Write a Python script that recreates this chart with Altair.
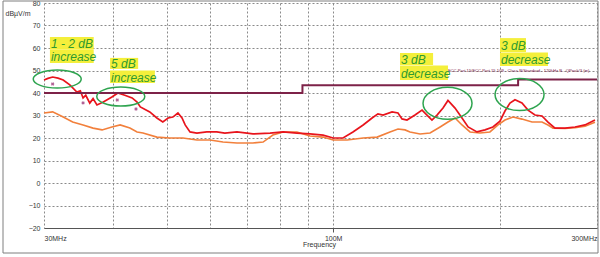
import altair as alt
import pandas as pd

# ---------------- data ----------------
red_freq = [30.0, 30.5, 31.1, 31.8, 32.5, 33.4, 34.4, 34.9, 35.3, 35.7, 36.3, 36.8, 37.4, 38.4,
            39.8, 40.8, 42.0, 43.3, 44.2, 44.8, 46.6, 48.0, 49.2, 50.3, 51.3, 52.4, 53.3, 54.0,
            55.1, 56.7, 59.1, 61.6, 63.7, 67.0, 71.6, 76.9, 81.2, 86.0, 90.8, 95.9, 100.0, 104.2,
            108.6, 113.3, 117.6, 120.5, 123.1, 127.8, 131.0, 133.2, 136.0, 140.6, 144.8, 147.8,
            150.9, 154.1, 158.0, 161.3, 166.1, 171.0, 175.4, 182.0, 188.2, 194.5, 200.3, 204.5,
            208.8, 213.2, 219.5, 225.1, 231.7, 238.6, 244.6, 251.9, 262.6, 273.8, 285.4, 297.5]
red_db = [45.8, 46.5, 47.1, 46.6, 45.8, 43.6, 40.4, 41.0, 37.8, 39.0, 35.5, 37.5, 34.7, 36.0,
          38.2, 40.0, 39.0, 37.8, 36.0, 33.8, 31.6, 28.9, 27.1, 28.9, 29.3, 31.1, 28.9, 25.8,
          22.7, 22.2, 22.7, 22.7, 22.2, 22.7, 21.8, 22.2, 22.7, 22.2, 21.8, 21.3, 20.0, 20.0,
          22.7, 25.8, 28.9, 30.7, 30.2, 31.6, 31.1, 28.5, 28.0, 30.2, 32.4, 30.2,
          28.0, 30.2, 33.3, 36.7, 33.3, 28.9, 24.9, 22.7, 23.6, 24.9, 27.5, 32.0,
          35.5, 37.0, 35.6, 32.4, 30.2, 29.8, 27.1, 24.4, 24.4, 24.9, 25.8, 28.0]

orange_freq = [30.0, 31.1, 32.5, 33.8, 35.3, 36.8, 38.2, 39.8, 41.2, 42.9, 44.2, 45.3, 48.0,
               50.7, 53.5, 56.7, 59.9, 63.2, 67.0, 71.6, 74.7, 77.8, 81.2, 86.0, 90.8, 95.9,
               100.0, 106.0, 113.3, 120.1, 126.7, 131.0, 134.9, 137.7, 143.6, 149.7, 156.1,
               161.3, 166.1, 171.0, 176.8, 184.3, 192.1, 198.7, 204.5, 211.5, 219.5, 228.9,
               238.6, 244.6, 249.8, 262.6, 273.8, 285.4, 297.5]
orange_db = [31.1, 31.6, 29.3, 27.1, 25.8, 24.4, 23.6, 24.9, 25.8, 24.4, 22.7, 22.2, 20.4,
             20.0, 20.0, 19.1, 19.1, 18.2, 17.8, 17.8, 18.2, 21.3, 22.7, 22.7, 20.9, 20.4,
             19.1, 19.1, 20.0, 20.4, 22.7, 24.0, 23.6, 22.7, 21.8, 22.2, 24.9,
             27.1, 28.9, 25.8, 22.7, 22.2, 22.7, 25.8, 28.0, 29.3, 28.4, 27.1,
             27.1, 25.8, 24.4, 24.2, 24.6, 25.2, 27.0]

limit_freq = [30, 88, 216, 300]
limit_db = [40, 43.5, 46, 46]
limit_label = "FCC Part 15/FCC Part 15.109 - Class B/Standard - 120kHz B - QPeak/3 (m)"

marker_freq = [31.1, 35.3, 40.7, 44.0]
marker_db = [44.0, 35.6, 36.9, 32.9]

x_ticks = [30, 40, 50, 60, 70, 80, 90, 100, 200, 300]
y_ticks = [-20, -10, 0, 10, 20, 30, 40, 50, 60, 70, 80]

# annotation lines (text, left freq, right freq, top dB, bottom dB)
note_text = ["1 - 2 dB", "increase", "5 dB", "increase", "3 dB", "decrease", "3 dB", "decrease"]
note_f0 = [30.75, 30.75, 39.5, 39.5, 132.1, 132.1, 200.3, 200.3]
note_f1 = [36.9, 36.9, 44.4, 47.6, 151.6, 161.3, 223.2, 244.6]
note_top = [64.9, 59.4, 55.6, 50.0, 57.8, 52.2, 64.4, 58.0]
note_bot = [59.6, 53.3, 50.7, 44.4, 52.4, 45.8, 58.2, 52.0]

# ellipses (center freq, center dB, width px, height px)
ell_freq = [31.7, 41.3, 161.0, 217.3]
ell_db = [46.2, 38.4, 35.4, 39.3]
ell_w = [48, 48, 49, 49]
ell_h = [18, 19, 32, 32]

# ---------------- helpers ----------------
W, H = 553, 225
xs = alt.Scale(type="log", domain=[30, 300], nice=False)
ys = alt.Scale(domain=[-20, 80], nice=False, zero=False)

x_axis = alt.Axis(
    values=x_ticks, grid=True, gridColor="#8a8a8a", gridDash=[2, 2], gridWidth=1,
    labelExpr="datum.value == 30 ? '30MHz' : datum.value == 100 ? '100M' : datum.value == 300 ? '300MHz' : ''",
    labelFlush=True, labelOverlap=False, labelFontSize=7, labelColor="#333333",
    labelFont="Liberation Sans", labelPadding=2, tickSize=4,
    tickColor={"condition": {"test": "datum.value == 100", "value": "#555555"}, "value": "transparent"},
    domain=True, domainColor="#555555", domainWidth=1,
    title="Frequency", titleFontSize=7, titleFontWeight="normal", titleColor="#333333",
    titleFont="Liberation Sans", titleX=275, titleY=16, titleAlign="center",
    titleBaseline="middle",
)
y_axis = alt.Axis(
    values=y_ticks, grid=True, gridColor="#8a8a8a", gridDash=[2, 2], gridWidth=1,
    labelFontSize=7, labelColor="#333333", labelFont="Liberation Sans", labelPadding=4,
    labelOverlap=False, ticks=False, domain=False,
    title="dBµV/m", titleFontSize=7, titleFontWeight="normal", titleColor="#333333",
    titleFont="Liberation Sans", titleAngle=0, titleX=-39, titleY=10, titleAlign="left",
    titleBaseline="middle",
)


def ellipse_path(k):
    c = 0.5523
    return (f"M -1 0 C -1 {-c*k:.4f} {-c:.4f} {-k:.4f} 0 {-k:.4f} "
            f"C {c:.4f} {-k:.4f} 1 {-c*k:.4f} 1 0 "
            f"C 1 {c*k:.4f} {c:.4f} {k:.4f} 0 {k:.4f} "
            f"C {-c:.4f} {k:.4f} -1 {c*k:.4f} -1 0 Z")


def X(field="f"):
    return alt.X(f"{field}:Q", scale=xs, axis=x_axis)


def Y(field="db"):
    return alt.Y(f"{field}:Q", scale=ys, axis=y_axis)


red_df = pd.DataFrame({"f": red_freq, "db": red_db})
orange_df = pd.DataFrame({"f": orange_freq, "db": orange_db})
limit_df = pd.DataFrame({"f": limit_freq, "db": limit_db})
marker_df = pd.DataFrame({"f": marker_freq, "db": marker_db})
note_df = pd.DataFrame({"t": note_text, "f0": note_f0, "f1": note_f1,
                        "top": note_top, "bot": note_bot})
note_df["mid"] = (note_df["top"] + note_df["bot"]) / 2

orange = alt.Chart(orange_df).mark_line(color="#f2803c", strokeWidth=1.6).encode(x=X(), y=Y())
red = alt.Chart(red_df).mark_line(color="#e8141c", strokeWidth=1.7).encode(x=X(), y=Y())
limit = alt.Chart(limit_df).mark_line(color="#7d2248", strokeWidth=2,
                                      interpolate="step-after").encode(x=X(), y=Y())
limit_text = alt.Chart(pd.DataFrame({"f": [161.3], "db": [49.8], "t": [limit_label]})).mark_text(
    align="left", baseline="middle", fontSize=4.2, color="#7d2248",
    font="Liberation Sans").encode(x=X(), y=Y(), text="t:N")
markers = alt.Chart(marker_df).mark_point(shape="cross", angle=45, filled=True, size=12,
                                          color="#a8508a", opacity=0.9).encode(x=X(), y=Y())

note_rect = alt.Chart(note_df).mark_rect(color="#f4ef3b").encode(
    x=X("f0"), x2="f1:Q", y=Y("top"), y2="bot:Q")
note_txt = alt.Chart(note_df).mark_text(
    align="left", baseline="middle", dx=1, dy=1, fontSize=12, fontStyle="italic",
    font="Liberation Sans", color="#2f9a2f").encode(x=X("f0"), y=Y("mid"), text="t:N")

ellipses = []
for f, d, w, h in zip(ell_freq, ell_db, ell_w, ell_h):
    ellipses.append(
        alt.Chart(pd.DataFrame({"f": [f], "db": [d]})).mark_point(
            shape=ellipse_path(h / w), size=w * w, filled=False, color="#2ea44f",
            strokeWidth=1.5, opacity=1).encode(x=X(), y=Y()))

frame = alt.Chart(pd.DataFrame({"a": [0]})).mark_rect(
    fillOpacity=0, stroke="#7f7f7f", strokeWidth=1).encode(
    x=alt.value(-41), x2=alt.value(554), y=alt.value(-2), y2=alt.value(250))

chart = alt.layer(
    orange, red, limit, markers, limit_text, note_rect, note_txt, *ellipses, frame
).properties(
    width=W, height=H,
    autosize=alt.AutoSizeParams(type="none"),
    padding={"left": 44, "top": 3, "right": 3, "bottom": 29},
    background="white",
).configure_view(stroke=None).configure_axis(
    titleColor="#333333", labelColor="#333333"
)

chart.save("out.html", embed_options={"renderer": "svg", "actions": False})
